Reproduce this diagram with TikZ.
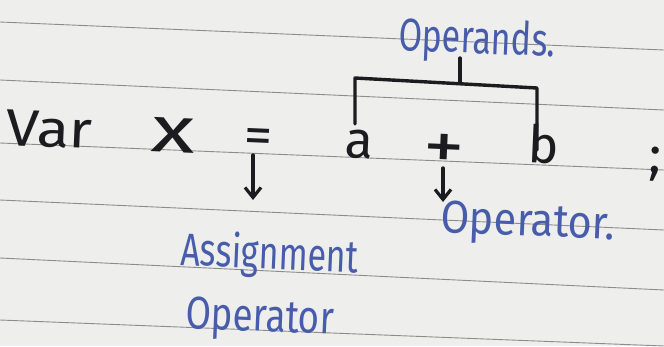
\documentclass[tikz,border=0pt]{standalone}
\usepackage{fontspec}
\setmainfont{Fira Sans}
\usetikzlibrary{arrows.meta}
\definecolor{ink}{RGB}{28,28,32}
\definecolor{blueink}{RGB}{72,92,172}
\definecolor{paper}{RGB}{238,238,236}
\definecolor{ruleline}{RGB}{140,140,140}
\begin{document}
\begin{tikzpicture}[x=1pt,y=-1pt,
  blk/.style={text=ink, font=\fontsize{52}{52}\selectfont, inner sep=0pt, anchor=base west, rotate=-2.5},
  blu/.style={text=blueink, font=\fontsize{34}{34}\selectfont, inner sep=0pt, anchor=base west, rotate=-2.5, yscale=1.35},
  pen/.style={draw=ink, line width=3.4pt, line cap=round, line join=round},
  arrowpen/.style={pen, -{Straight Barb[length=10pt,width=16pt,line width=3.2pt]}},
  ruling/.style={draw=ruleline, line width=0.9pt}]
\fill[paper] (0,0) rectangle (664,346);
\useasboundingbox (0,0) rectangle (664,346);
% ruled lines
\draw[ruling] (0,22) -- (664,50);
\draw[ruling] (0,80) -- (664,110);
\draw[ruling] (0,143) -- (664,170);
\draw[ruling] (0,200) -- (664,230);
\draw[ruling] (0,258) -- (664,290);
\draw[ruling] (0,320) -- (664,346);
% expression
\node[blk, xscale=1.15] (var) at (5,145) {Var};
\node[blk, xscale=1.75, yscale=1.25] (x) at (150,151) {x};
\node[blk, xscale=1.1] (eq) at (243,152) {=};
\node[blk] (a) at (344,157) {a};
\node[blk, xscale=1.6, yscale=1.3] (plus) at (422,168) {+};
\node[blk] (b) at (527,162) {b};
\node[blk] (semi) at (648,172) {;};
% labels
\node[blu] (operands) at (398,50) {Operands.};
\node[blu, xscale=1.22] (operator) at (440,232) {Operator.};
\node[blu] (assign) at (180,265) {Assignment};
\node[blu, xscale=1.08] (assignop) at (185,328) {Operator};
% bracket over operands
\coordinate (brTL) at (355,78);
\coordinate (brTR) at (537,88);
\coordinate (brMid) at (460,83);
\draw[pen] (355,124) -- (brTL) -- (brTR) -- (537,150);
\draw[pen] (brMid) -- (460,58);
% arrows
\coordinate (eqEnd) at (253,200);
\coordinate (plusEnd) at (443,202);
\draw[arrowpen] (253,155) -- (eqEnd);
\draw[arrowpen] (443,168) -- (plusEnd);
\end{tikzpicture}
\end{document}
